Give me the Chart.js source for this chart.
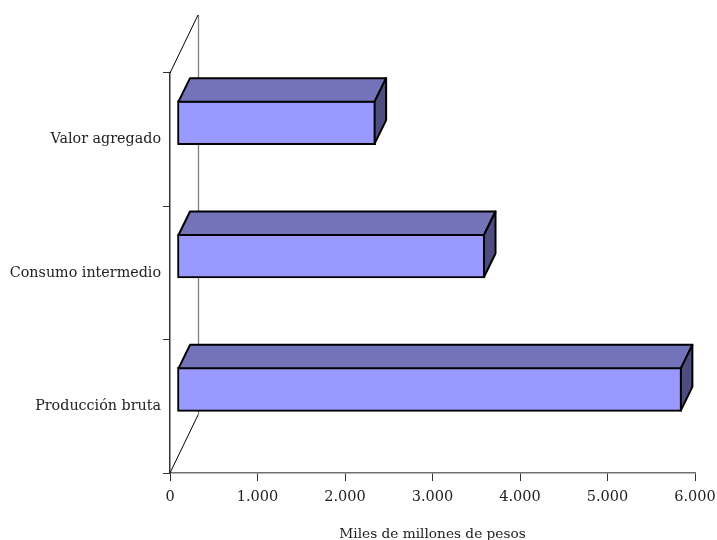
<!DOCTYPE html>
<html>
<head>
<meta charset="utf-8">
<style>html,body{margin:0;padding:0;background:#fff}#wrap{width:717px;height:540px}</style>
<script src="https://cdn.jsdelivr.net/npm/chart.js@4"></script>
</head>
<body>
<div id="wrap"><canvas id="c" width="717" height="540"></canvas></div>
<script>
const categories = ["Valor agregado", "Consumo intermedio", "Producción bruta"];
const values = [2270, 3520, 5770];
const axisTitle = "Miles de millones de pesos";
const fontName = "'DejaVu Serif'";

const shift = {x: 7, y: -17};
const depth = {x: 11.5, y: -23.5};

const walls = {
  id: 'walls',
  beforeDatasetsDraw(chart) {
    const {left, right, top, bottom} = chart.chartArea;
    const c = chart.ctx, dx = 28, dy = -58;
    c.save();
    c.lineWidth = 1.3;
    c.strokeStyle = '#808080';
    c.beginPath();
    c.moveTo(left + dx + .5, top + dy);
    c.lineTo(left + dx + .5, bottom + dy);
    c.stroke();
    c.lineWidth = 1;
    c.strokeStyle = '#000';
    c.beginPath();
    c.moveTo(left, bottom); c.lineTo(left + dx, bottom + dy);
    c.moveTo(left, top); c.lineTo(left + dx, top + dy);
    c.stroke();
    c.restore();
    c.save();
    c.translate(shift.x, shift.y);
  },
  afterDatasetsDraw(chart) {
    const c = chart.ctx;
    chart.getDatasetMeta(0).data.forEach(b => {
      const l = b.base + 1, r = b.x - 1, t = b.y - b.height / 2 + 1, bt = b.y + b.height / 2 - 1;
      c.lineWidth = 2;
      c.lineJoin = 'round';
      c.strokeStyle = '#000';
      c.fillStyle = '#7373BA';
      c.beginPath();
      c.moveTo(l, t); c.lineTo(l + depth.x, t + depth.y);
      c.lineTo(r + depth.x, t + depth.y); c.lineTo(r, t);
      c.closePath(); c.fill(); c.stroke();
      c.fillStyle = '#4D4D80';
      c.beginPath();
      c.moveTo(r, t); c.lineTo(r + depth.x, t + depth.y);
      c.lineTo(r + depth.x, bt + depth.y); c.lineTo(r, bt);
      c.closePath(); c.fill(); c.stroke();
    });
    c.restore();
  }
};

new Chart(document.getElementById('c'), {
  type: 'bar',
  data: {
    labels: categories,
    datasets: [{
      data: values,
      backgroundColor: '#9999FF',
      borderColor: '#000',
      borderWidth: 2,
      borderSkipped: false,
      barThickness: 44
    }]
  },
  plugins: [walls],
  options: {
    indexAxis: 'y',
    responsive: false,
    animation: false,
    layout: {padding: {left: 0, right: 22, top: 73, bottom: 0}},
    plugins: {legend: {display: false}, tooltip: {enabled: false}, title: {display: false}},
    scales: {
      x: {
        min: 0, max: 6000,
        afterFit(s) { s.height = 67; s.paddingRight = 0; s.paddingLeft = 0; },
        border: {color: '#707070', width: 1.5},
        grid: {drawOnChartArea: false, drawTicks: true, tickLength: 8, color: '#333'},
        ticks: {
          stepSize: 1000, padding: 8, color: '#222', maxRotation: 0,
          font: {family: fontName, size: 14.5},
          callback: v => v === 0 ? '0' : (v / 1000) + '.000'
        },
        title: {display: true, text: axisTitle, color: '#222', padding: {top: 15, bottom: -3}, font: {family: fontName, size: 13.7}}
      },
      y: {
        afterFit(s) { s.width = 170; },
        border: {color: '#333', width: 1.5},
        grid: {drawOnChartArea: false, drawTicks: true, tickLength: 7, color: '#333'},
        ticks: {padding: 2, color: '#222', font: {family: fontName, size: 14.3}}
      }
    }
  }
});
</script>
</body>
</html>
